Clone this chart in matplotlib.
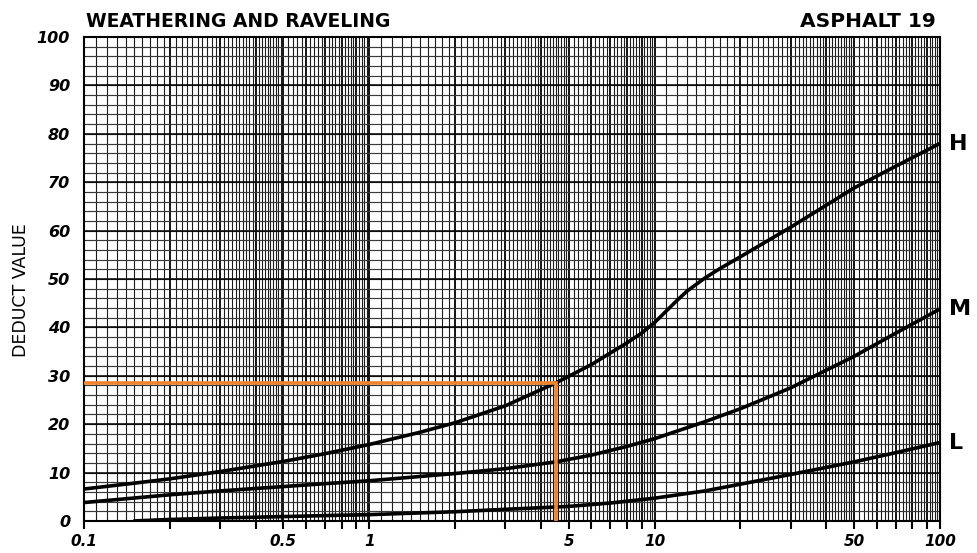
import numpy as np
import matplotlib
matplotlib.use("Agg")
import matplotlib.pyplot as plt

# ---- curves (density %, deduct value) ----
H_X = [0.1, 0.15, 0.2, 0.3, 0.5, 0.7, 1, 1.5, 2, 3, 4.5, 6, 8, 9, 10, 11, 12, 13, 15, 17, 20, 30, 50, 70, 100]
H_Y = [6.6, 7.8, 8.7, 10.2, 12.3, 13.9, 15.8, 18.3, 20.3, 23.8, 28.5, 32.3, 36.8, 38.8, 41.0, 43.4, 45.6, 47.5, 50.2, 52.2, 54.6, 60.7, 68.8, 73.3, 78.0]

M_X = [0.1, 0.2, 0.3, 0.5, 0.7, 1, 2, 3, 4.5, 6, 8, 10, 15, 20, 30, 50, 70, 100]
M_Y = [3.8, 5.4, 6.2, 7.1, 7.7, 8.3, 9.8, 10.8, 12.2, 13.6, 15.4, 17.0, 20.5, 23.2, 27.5, 34.0, 38.8, 43.8]

L_X = [0.15, 0.2, 0.3, 0.5, 0.7, 1, 2, 3, 5, 7, 10, 15, 20, 30, 50, 70, 100]
L_Y = [0.0, 0.3, 0.6, 0.9, 1.1, 1.3, 1.9, 2.4, 3.0, 3.7, 4.7, 6.2, 7.6, 9.6, 12.2, 14.1, 16.2]

CURVE_NAMES = ["H", "M", "L"]

# worked example (orange guide)
EX_DENSITY = 4.5
EX_DEDUCT = 28.5

X_LABELS = [0.1, 0.5, 1, 5, 10, 50, 100]
X_LABEL_TEXT = ["0.1", "0.5", "1", "5", "10", "50", "100"]
Y_LABELS = list(range(0, 101, 10))

TITLE_L = "WEATHERING AND RAVELING"
TITLE_R = "ASPHALT 19"
Y_TITLE = "DEDUCT VALUE"


def log_grid():
    """positions of semi-log paper rulings from 0.1 to 100"""
    minor, major = [], []
    for dec in (0.1, 1, 10):
        for i in range(1, 10):
            major.append(i * dec)
        for v in np.arange(1.1, 5.0, 0.1):
            minor.append(v * dec)
        for v in np.arange(5.2, 10.0, 0.2):
            minor.append(v * dec)
    major.append(100)
    major_r = np.round(major, 6)
    minor = [m for m in np.round(minor, 6) if not np.any(np.isclose(m, major_r))]
    return minor, major


fig = plt.figure(figsize=(9.77, 5.53), dpi=100)
ax = fig.add_axes([0.086, 0.058, 0.876, 0.875])
ax.set_xscale("log")
ax.set_xlim(0.1, 100)
ax.set_ylim(0, 100)

minor, major = log_grid()
ax.vlines(minor, 0, 100, color="#1a1a1a", lw=0.8, zorder=1)
ax.vlines(major, 0, 100, color="black", lw=1.3, zorder=1)
ax.hlines(np.arange(2, 100, 2), 0.1, 100, color="#3a3a3a", lw=0.85, zorder=1)
ax.hlines(np.arange(10, 100, 10), 0.1, 100, color="black", lw=1.1, zorder=1)

for xs, ys in ((H_X, H_Y), (M_X, M_Y), (L_X, L_Y)):
    ax.plot(xs, ys, color="black", lw=2.6, solid_capstyle="round",
            solid_joinstyle="round", zorder=3)

for name, ys in zip(CURVE_NAMES, (H_Y, M_Y, L_Y)):
    ax.text(108, ys[-1], name, fontsize=16, fontweight="bold", va="center", ha="left",
            clip_on=False)

# orange read-off line
ax.plot([0.1, EX_DENSITY, EX_DENSITY], [EX_DEDUCT, EX_DEDUCT, 0],
        color="#EE8430", lw=2.6, zorder=4, solid_joinstyle="miter")

for s in ax.spines.values():
    s.set_linewidth(1.5)

ax.set_xticks(major)
ax.set_xticklabels([""] * len(major))
ax.xaxis.set_minor_locator(matplotlib.ticker.NullLocator())
ax.tick_params(axis="x", direction="out", length=6, width=1.5)
for xv, t in zip(X_LABELS, X_LABEL_TEXT):
    ax.text(xv, -2.6, t, ha="center", va="top", fontsize=11, fontweight="bold",
            fontstyle="italic")

ax.set_yticks(Y_LABELS)
ax.set_yticklabels([str(v) for v in Y_LABELS], fontsize=11.5, fontweight="bold",
                   fontstyle="italic")
ax.tick_params(axis="y", length=0, pad=10)
ax.yaxis.set_minor_locator(matplotlib.ticker.NullLocator())

fig.text(0.021, 0.475, Y_TITLE, rotation=90, ha="center", va="center",
         fontsize=12.5, fontfamily="DejaVu Sans Condensed")
fig.text(0.088, 0.962, TITLE_L, ha="left", va="center", fontsize=13.5,
         fontweight="bold")
fig.text(0.958, 0.962, TITLE_R, ha="right", va="center", fontsize=14.5,
         fontweight="bold")

fig.savefig("out.png", dpi=100)
